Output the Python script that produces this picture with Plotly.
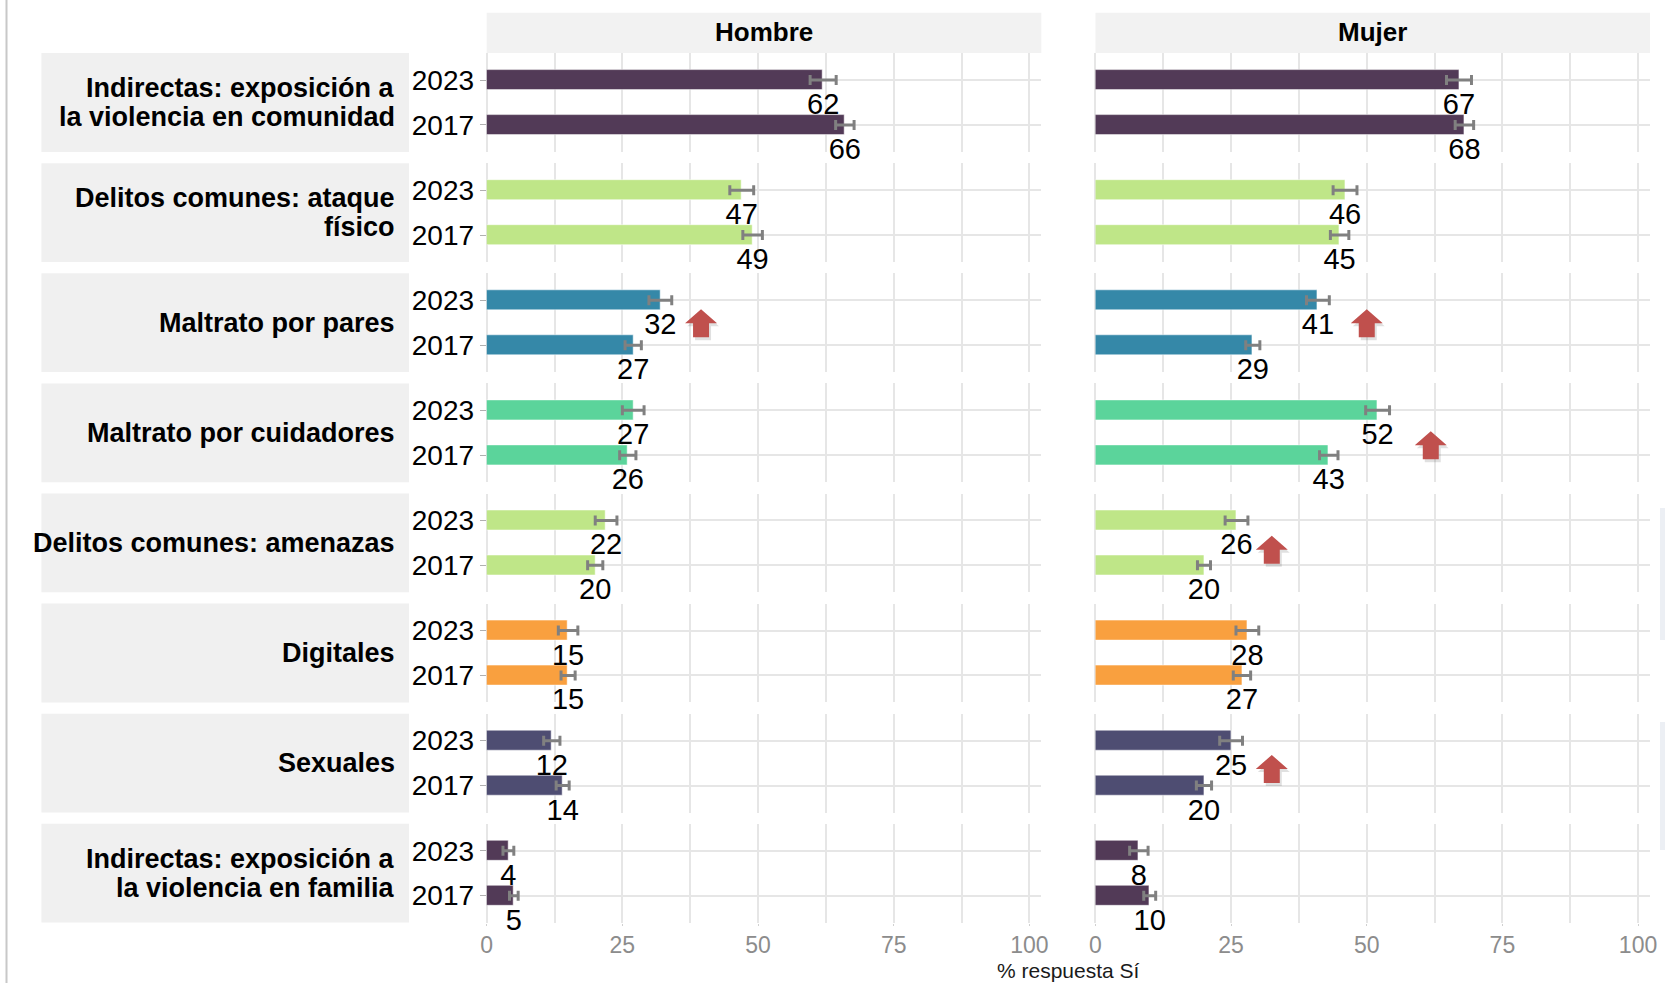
import plotly.graph_objects as go

# ---- datos ----
categorias = [
    "Indirectas: exposición a<br>la violencia en comunidad",
    "Delitos comunes: ataque<br>físico",
    "Maltrato por pares",
    "Maltrato por cuidadores",
    "Delitos comunes: amenazas",
    "Digitales",
    "Sexuales",
    "Indirectas: exposición a<br>la violencia en familia",
]
anios = ["2023", "2017"]
sexos = ["Hombre", "Mujer"]

hombre_2023 = [62, 47, 32, 27, 22, 15, 12, 4]
hombre_2017 = [66, 49, 27, 26, 20, 15, 14, 5]
mujer_2023 = [67, 46, 41, 52, 26, 28, 25, 8]
mujer_2017 = [68, 45, 29, 43, 20, 27, 20, 10]

err_hombre_2023 = [2.4, 2.2, 2.1, 2.0, 2.0, 1.8, 1.5, 1.0]
err_hombre_2017 = [1.7, 1.8, 1.5, 1.5, 1.4, 1.3, 1.2, 0.8]
err_mujer_2023 = [2.3, 2.2, 2.1, 2.2, 2.1, 2.1, 2.1, 1.7]
err_mujer_2017 = [1.7, 1.7, 1.3, 1.7, 1.2, 1.6, 1.4, 1.1]

colores = ["#523a57", "#bfe688", "#3588a8", "#5bd49b",
           "#bfe688", "#f9a03f", "#4e4d72", "#523a57"]

# flechas de aumento significativo: (sexo, fila, x, y)
flechas_sexo = ["Hombre", "Mujer", "Mujer", "Mujer", "Mujer"]
flechas_fila = [2, 2, 3, 4, 6]
flechas_x = [39.5, 50, 61.8, 32.5, 32.5]
flechas_y = [0.51, 0.51, 0.78, 0.65, 0.63]

x_ticks = [0, 25, 50, 75, 100]

# ---- geometría (px) ----
W, H = 1665, 983
col_x = {"Hombre": (486.4, 1040.7), "Mujer": (1094.8, 1649.0)}
row_top0, row_h, row_step = 53.1, 98.8, 110.1
FONT = "Liberation Sans, Arial, sans-serif"
INTERLINEA = 28.7

# corrección horizontal medida en la captura
SX, OX = 0.9916, 6.0

def px_x(v):
    return ((v - OX) / SX) / W

def px_y(v):
    return 1 - v / H

valores = {"Hombre": (hombre_2023, hombre_2017), "Mujer": (mujer_2023, mujer_2017)}
errores = {"Hombre": (err_hombre_2023, err_hombre_2017), "Mujer": (err_mujer_2023, err_mujer_2017)}

fig = go.Figure()
layout_axes = {}
shapes = []
annotations = []

n = 0
for i, cat in enumerate(categorias):
    top = row_top0 + i * row_step
    bot = top + row_h
    for sexo in sexos:
        n += 1
        xa = "x" if n == 1 else f"x{n}"
        ya = "y" if n == 1 else f"y{n}"
        v23, v17 = valores[sexo]
        e23, e17 = errores[sexo]
        vals = [v23[i], v17[i]]
        errs = [e23[i], e17[i]]
        fig.add_trace(go.Bar(
            x=vals, y=[0, 1], orientation="h", width=0.45,
            marker=dict(color=colores[i], line=dict(color="rgba(255,255,255,0.5)", width=1)),
            error_x=dict(type="data", array=errs, color="#808080", thickness=3, width=5),
            xaxis=xa, yaxis=ya, showlegend=False, hoverinfo="x",
        ))
        fig.add_trace(go.Scatter(
            x=vals, y=[0.595, 1.595], mode="text", text=[str(v) for v in vals],
            textposition="middle center",
            textfont=dict(family=FONT, size=29, color="black"),
            xaxis=xa, yaxis=ya, showlegend=False, hoverinfo="skip", cliponaxis=False,
        ))
        x0, x1 = col_x[sexo]
        ultima = i == len(categorias) - 1
        layout_axes["xaxis" if n == 1 else f"xaxis{n}"] = dict(
            domain=[px_x(x0), px_x(x1)], anchor=ya, range=[0, 102.2],
            tickvals=x_ticks, showticklabels=ultima,
            ticks="outside" if ultima else "", ticklen=2, tickcolor="#d0d0d0",
            tickfont=dict(family=FONT, size=23, color="#8c8c8c"),
            showgrid=True, gridcolor="#e6e6e6", gridwidth=1.5,
            minor=dict(dtick=12.5, tick0=0, showgrid=True, gridcolor="#e6e6e6", gridwidth=1.5),
            zeroline=True, zerolinecolor="#e6e6e6", zerolinewidth=1.5,
            showline=False, fixedrange=True,
        )
        layout_axes["yaxis" if n == 1 else f"yaxis{n}"] = dict(
            domain=[px_y(bot), px_y(top)], anchor=xa, range=[1.6, -0.6],
            tickvals=[0, 1], ticktext=anios, showticklabels=(sexo == "Hombre"),
            ticks="outside" if sexo == "Hombre" else "", ticklen=6, tickcolor="#b0b0b0",
            tickfont=dict(family=FONT, size=28, color="black"),
            showgrid=True, gridcolor="#e6e6e6", gridwidth=1.5,
            zeroline=False, showline=False, fixedrange=True,
        )
    # franja de la fila, con cada línea del rótulo colocada a mano (interlineado apretado)
    shapes.append(dict(type="rect", xref="paper", yref="paper",
                       x0=px_x(41.4), x1=px_x(408.8), y0=px_y(bot), y1=px_y(top),
                       fillcolor="#f0f0f0", line=dict(width=0), layer="below"))
    lineas = cat.split("<br>")
    centro = (top + bot) / 2
    for j, linea in enumerate(lineas):
        yc = centro + (j - (len(lineas) - 1) / 2) * INTERLINEA
        annotations.append(dict(xref="paper", yref="paper", x=px_x(397), y=px_y(yc),
                                xanchor="right", yanchor="middle", align="right", showarrow=False,
                                text=linea,
                                font=dict(family=FONT, size=27, color="black", weight="bold")))

# franjas superiores
for sexo in sexos:
    x0, x1 = col_x[sexo]
    shapes.append(dict(type="rect", xref="paper", yref="paper",
                       x0=px_x(x0), x1=px_x(x1), y0=px_y(53.1), y1=px_y(12.7),
                       fillcolor="#f2f2f2", line=dict(width=0), layer="below"))
    annotations.append(dict(xref="paper", yref="paper", x=px_x((x0 + x1) / 2), y=px_y(32),
                            xanchor="center", yanchor="middle", showarrow=False, text=sexo,
                            font=dict(family=FONT, size=26, color="black", weight="bold")))

# flechas rojas
ruta = "M0,14 L16,0 L8,0 L8,-14 L-8,-14 L-8,0 L-16,0 Z"
ruta_sombra = "M2,11 L18,-3 L10,-3 L10,-17 L-6,-17 L-6,-3 L-14,-3 Z"
for sx, fila, fx, fy in zip(flechas_sexo, flechas_fila, flechas_x, flechas_y):
    k = fila * 2 + (1 if sx == "Hombre" else 2)
    xr = "x" if k == 1 else f"x{k}"
    yr = "y" if k == 1 else f"y{k}"
    shapes.append(dict(type="path", xref=xr, yref=yr, xsizemode="pixel", ysizemode="pixel",
                       xanchor=fx, yanchor=fy, path=ruta_sombra,
                       fillcolor="rgba(0,0,0,0.12)", line=dict(width=0)))
    shapes.append(dict(type="path", xref=xr, yref=yr, xsizemode="pixel", ysizemode="pixel",
                       xanchor=fx, yanchor=fy, path=ruta,
                       fillcolor="#c0504d", line=dict(width=0)))

# borde izquierdo y restos en el margen derecho
shapes.append(dict(type="line", xref="paper", yref="paper", x0=px_x(6.5), x1=px_x(6.5), y0=0, y1=1,
                   line=dict(color="#c8c8c8", width=2)))
shapes.append(dict(type="rect", xref="paper", yref="paper", x0=px_x(1659), x1=px_x(1672),
                   y0=px_y(640), y1=px_y(508), fillcolor="#eceff4", line=dict(width=0)))
shapes.append(dict(type="rect", xref="paper", yref="paper", x0=px_x(1659), x1=px_x(1672),
                   y0=px_y(850), y1=px_y(722), fillcolor="#eceff4", line=dict(width=0)))

annotations.append(dict(xref="paper", yref="paper", x=px_x(1068), y=px_y(970),
                        xanchor="center", yanchor="middle", showarrow=False,
                        text="% respuesta Sí", font=dict(family=FONT, size=21, color="#1a1a1a")))

fig.update_layout(
    width=W, height=H, autosize=False,
    margin=dict(l=0, r=0, t=0, b=0),
    paper_bgcolor="white", plot_bgcolor="white",
    barmode="overlay", bargap=0,
    shapes=shapes, annotations=annotations,
    font=dict(family=FONT),
    **layout_axes,
)

# sin margen ni barras de desplazamiento, para que la figura ocupe la ventana entera
fig.write_html(
    "out.html",
    config={"displayModeBar": False, "responsive": False},
    post_script=(
        "document.body.style.margin='0';"
        "document.body.style.overflow='hidden';"
        "document.documentElement.style.overflow='hidden';"
    ),
)
